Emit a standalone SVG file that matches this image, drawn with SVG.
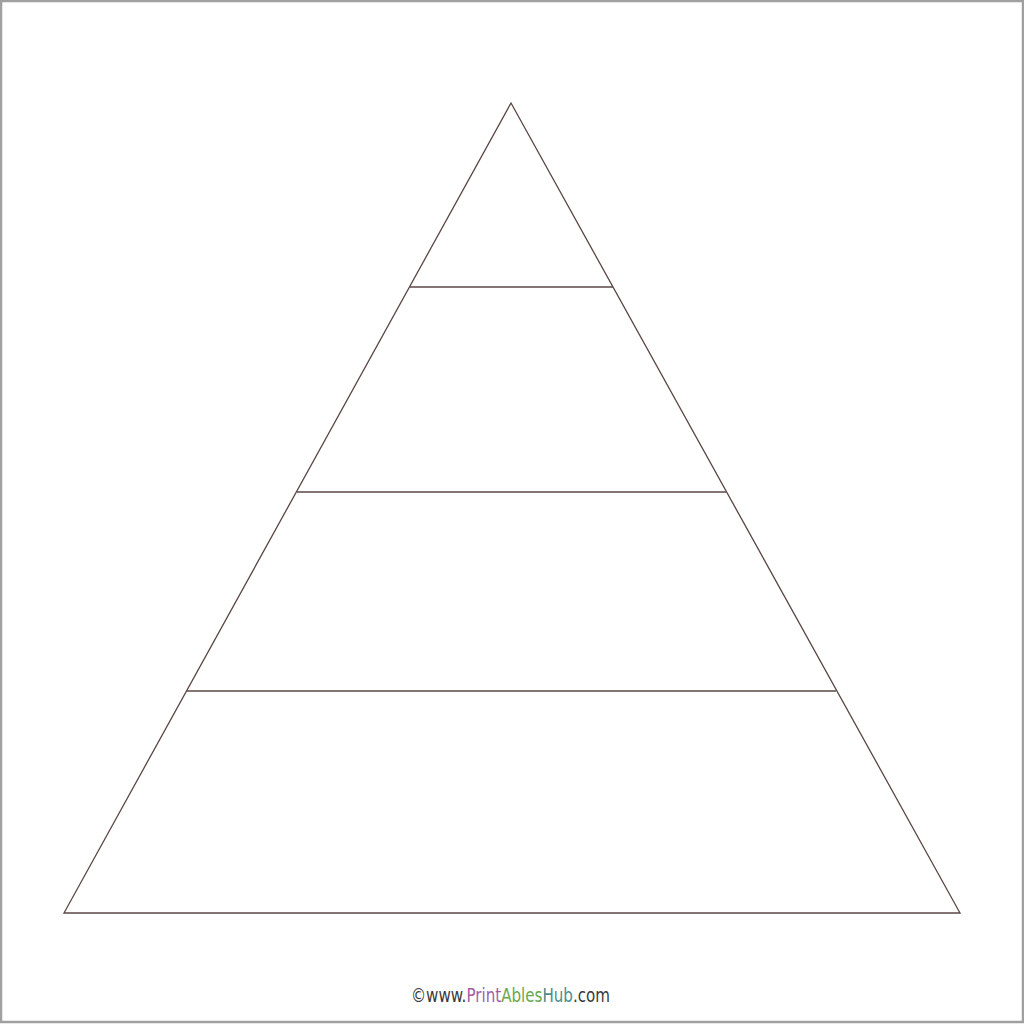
<svg xmlns="http://www.w3.org/2000/svg" width="1024" height="1024" viewBox="0 0 1024 1024">
<style>
.ln{stroke:#5a4744;stroke-width:1.3;fill:none}
.wm{font-family:"DejaVu Sans Condensed","Liberation Sans",sans-serif;font-size:19px}
</style>
<rect x="0" y="0" width="1024" height="1024" fill="#ffffff"/>
<rect x="1" y="1" width="1022" height="1021" fill="none" stroke="#a0a0a0" stroke-width="2.5"/>
<g id="pyramid">
<polygon class="ln" points="511,103 960,913 64,913"/>
</g>
<g id="tiers">
<line class="ln" x1="410" y1="287" x2="613" y2="287"/>
<line class="ln" x1="297" y1="492" x2="726" y2="492"/>
<line class="ln" x1="187" y1="691" x2="836" y2="691"/>
</g>
<text class="wm" x="411" y="1002" textLength="199" lengthAdjust="spacingAndGlyphs"><tspan fill="#3a3a3a">©www.</tspan><tspan fill="#a15ca8">Print</tspan><tspan fill="#6aa84f">Ables</tspan><tspan fill="#4a8c90">Hub</tspan><tspan fill="#3a3a3a">.com</tspan></text>
</svg>
